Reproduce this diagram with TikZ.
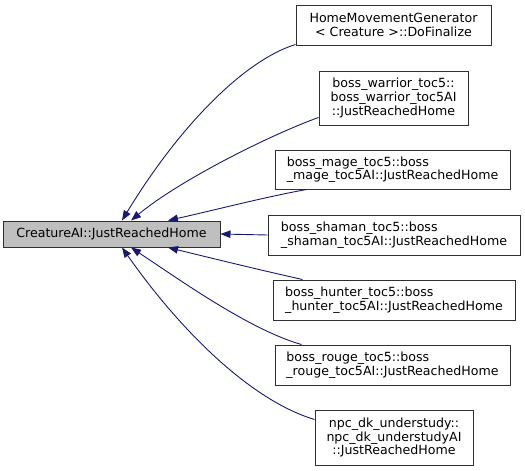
\documentclass[tikz,border=0pt]{standalone}
\usepackage{fontspec}
\setmainfont{DejaVu Sans}
\usetikzlibrary{arrows.meta,calc}
\definecolor{edgeblue}{HTML}{191970}
\definecolor{mainfill}{HTML}{BFBFBF}
\definecolor{boxline}{HTML}{303030}
\begin{document}
\begin{tikzpicture}[x=1pt,y=-1pt,
  box/.style={draw=boxline,line width=1pt,fill=white,inner sep=3pt,
    font=\fontsize{12.6}{13.6}\selectfont},
  lbox/.style={box,align=left},
  cbox/.style={box,align=center},
  edge/.style={draw=edgeblue,line width=0.9pt,
    -{Triangle[length=10pt,width=7.5pt]}}]
\useasboundingbox (0,0) rectangle (525,471);
\node[cbox,fill=mainfill,minimum width=217pt,minimum height=26pt] (main) at (111.5,234) {CreatureAI::JustReachedHome};
\node[cbox,minimum width=195pt,minimum height=40pt] (b1) at (393.5,25) {HomeMovementGenerator\\< Creature >::DoFinalize};
\node[cbox,minimum width=149pt,minimum height=54pt] (b2) at (393.5,98) {boss\_warrior\_toc5::\\boss\_warrior\_toc5AI\\::JustReachedHome};
\node[lbox,minimum width=235pt,minimum height=39pt] (b3) at (392.5,169.5) {boss\_mage\_toc5::boss\\\_mage\_toc5AI::JustReachedHome};
\node[lbox,minimum width=252pt,minimum height=40pt] (b4) at (394,235) {boss\_shaman\_toc5::boss\\\_shaman\_toc5AI::JustReachedHome};
\node[lbox,minimum width=242pt,minimum height=40pt] (b5) at (394,300) {boss\_hunter\_toc5::boss\\\_hunter\_toc5AI::JustReachedHome};
\node[lbox,minimum width=235pt,minimum height=40pt] (b6) at (392.5,365) {boss\_rouge\_toc5::boss\\\_rouge\_toc5AI::JustReachedHome};
\node[cbox,minimum width=158pt,minimum height=55pt] (b7) at (394,437.5) {npc\_dk\_understudy::\\npc\_dk\_understudyAI\\::JustReachedHome};

\draw[edge] ($(b1.south west)+(0,-1)$) .. controls (245,60) and (180,125) .. ($(main.north)+(10.5,0)$);
\draw[edge] ($(b2.south west)+(0,-8)$) .. controls (270,135) and (180,180) .. ($(main.north)+(19.5,0)$);
\draw[edge] ($(b3.south west)+(32,0)$) .. controls (265,197) and (215,210) .. ($(main.north)+(56.5,0)$);
\draw[edge] (b4.west) -- (main.east);
\draw[edge] ($(b5.north west)+(30,0)$) .. controls (260,270) and (215,259) .. ($(main.south)+(56.5,0)$);
\draw[edge] ($(b6.north west)+(27,0)$) .. controls (250,330) and (180,280) .. ($(main.south)+(19.5,0)$);
\draw[edge] ($(b7.north west)+(0,10)$) .. controls (250,400) and (180,330) .. ($(main.south)+(10.5,0)$);
\end{tikzpicture}
\end{document}
